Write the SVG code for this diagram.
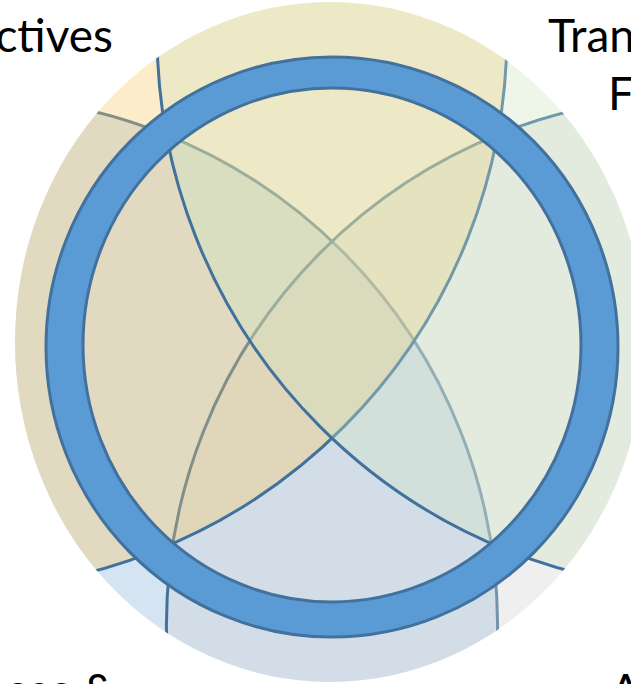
<svg xmlns="http://www.w3.org/2000/svg" width="631" height="684" viewBox="0 0 631 684">
<defs>
<style>
.c{stroke:#41719c;stroke-width:3}
.t{font-family:Lato,"Open Sans",sans-serif;font-size:46px;fill:#000}
</style>
<clipPath id="clip"><ellipse cx="330" cy="342" rx="315" ry="340"/></clipPath>
</defs>
<rect width="631" height="684" fill="#fff"/>
<g id="circles" clip-path="url(#clip)">
<g id="ll"><circle class="c" cx="-32.4" cy="626.1" r="530" fill="#87b2dd" fill-opacity="0.35"/></g>
<g id="lr"><circle class="c" cx="696.4" cy="626.1" r="530" fill="#d1d1d1" fill-opacity="0.35"/></g>
<g id="ul"><circle class="c" cx="-50.5" cy="32.7" r="557.5" fill="#f9c965" fill-opacity="0.35"/></g>
<g id="ur"><circle class="c" cx="714.5" cy="32.7" r="557.5" fill="#cee5c3" fill-opacity="0.35"/></g>
</g>
<g id="ring">
<path fill="#5b9bd5" fill-rule="evenodd" stroke="#41719c" stroke-width="3" d="M46,347 A286,290 0 1,0 618,347 A286,290 0 1,0 46,347 Z M83,345 A249,257 0 1,1 581,345 A249,257 0 1,1 83,345 Z"/>
</g>
<g id="labels">
<text class="t" x="113" y="52" text-anchor="end">ctives</text>
<text class="t" x="548" y="52">Tran</text>
<text class="t" x="608" y="110">F</text>
<text class="t" x="5" y="707">ces &amp;</text>
<text class="t" x="610" y="707">A</text>
</g>
</svg>
